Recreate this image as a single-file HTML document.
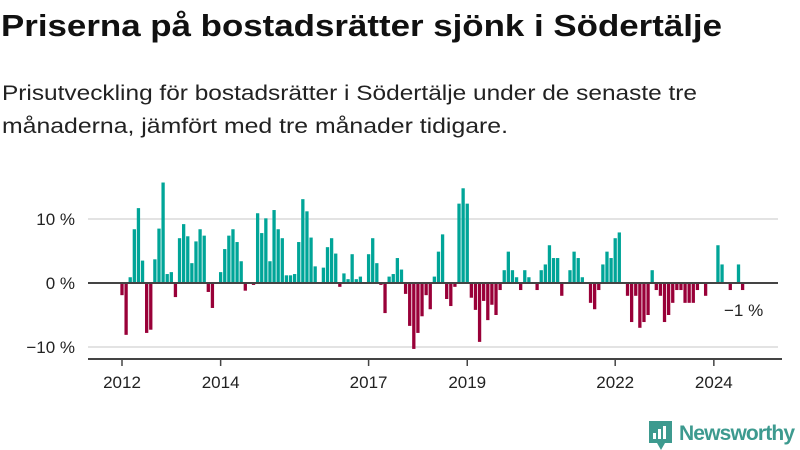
<!DOCTYPE html>
<html><head><meta charset="utf-8">
<style>
body{margin:0;background:#fff;width:800px;height:450px;overflow:hidden;font-family:"Liberation Sans",sans-serif;}
svg{position:absolute;left:0;top:0;}
</style></head><body>
<svg width="800" height="450">
<text x="1" y="36" font-size="31" font-weight="bold" fill="#111" font-family="Liberation Sans, sans-serif" textLength="721" lengthAdjust="spacingAndGlyphs">Priserna på bostadsrätter sjönk i Södertälje</text>
<text x="2" y="100" font-size="21" fill="#222" font-family="Liberation Sans, sans-serif" textLength="695" lengthAdjust="spacingAndGlyphs">Prisutveckling för bostadsrätter i Södertälje under de senaste tre</text>
<text x="2" y="133" font-size="21" fill="#222" font-family="Liberation Sans, sans-serif" textLength="506" lengthAdjust="spacingAndGlyphs">månaderna, jämfört med tre månader tidigare.</text>
<g id="grid"></g><g id="bars"></g><g id="axes"></g>
<text x="724" y="316" font-size="17" fill="#222" font-family="Liberation Sans, sans-serif">−1 %</text>
<g>
<path d="M649 421 h23 v22 h-7 l-4 7 l-4 -7 h-8 z" fill="#3d9a8f"/>
<rect x="653" y="433" width="3" height="6" fill="#fff"/><rect x="658" y="429" width="3" height="10" fill="#fff"/><rect x="663" y="426" width="3" height="13" fill="#fff"/>
<text x="679" y="440" font-size="21" font-weight="bold" fill="#3d9a8f" font-family="Liberation Sans, sans-serif" textLength="116">Newsworthy</text>
</g>
</svg>
<script>
const values=[-1.9,-8.1,0.9,8.4,11.7,3.5,-7.8,-7.3,3.7,8.5,15.7,1.4,1.7,-2.2,7.0,9.2,7.3,3.1,6.5,8.4,7.4,-1.4,-3.9,0,1.7,5.3,7.4,8.4,6.4,3.4,-1.2,0,-0.3,
10.9,7.8,10.1,3.4,11.4,8.4,7.0,1.2,1.2,1.4,6.4,13.1,11.2,7.1,2.6,0,2.4,5.6,7.0,4.6,-0.6,1.5,0.6,4.5,0.6,1.0,0,4.5,7.0,3.1,-0.3,-4.7,1.0,1.4,3.9,2.1,-1.7,-6.7,-10.3,-7.8,-5.2,
-1.9,-4.1,1.0,4.9,7.6,-2.5,-3.6,-0.6,12.4,14.8,12.4,-2.3,-4.2,-9.2,-2.8,-5.8,-3.4,-5.0,-1.1,2.0,4.9,2.0,0.9,-1.1,2.0,0.9,0,-1.1,2.0,2.9,5.9,3.9,3.9,-2.0,0,2.0,4.9,3.9,0.9,0,
-3.1,-4.1,-1.1,2.9,4.9,3.9,7.0,7.9,0,-2.0,-6.1,-2.0,-7.0,-6.1,-5.0,2.0,-1.1,-2.0,-6.1,-5.0,-3.1,-1.1,-1.1,-3.1,-3.1,-3.1,-1.1,0,-2.0,0,0,5.9,2.9,0,-1.1,0,2.9,-1.1];
const yTicks=[10,0,-10];
const yTickLabels=["10 %","0 %","−10 %"];
const xTickYears=[2012,2014,2017,2019,2022,2024];
const NS="http://www.w3.org/2000/svg";
const x=i=>122+i*4.11;
const xYear=yr=>x((yr-2012)*12);
const y=v=>283-v*6.4;
function mk(t,a,p){const e=document.createElementNS(NS,t);for(const k in a)e.setAttribute(k,a[k]);p.appendChild(e);return e;}
const grid=document.getElementById('grid'),bars=document.getElementById('bars'),axes=document.getElementById('axes');
yTicks.forEach((v,i)=>{
 if(v!==0){const l=mk('line',{x1:88,x2:778,y1:y(v),y2:y(v),stroke:'#e3e3e3','stroke-width':2},grid);
 
 }
 const t=mk('text',{x:75,y:y(v)+6,'text-anchor':'end','font-size':17,fill:'#222','font-family':'Liberation Sans, sans-serif'},axes);
 t.textContent=yTickLabels[i];
 
 
});
values.forEach((v,i)=>{
 if(v===0)return;
 const r=mk('rect',{x:x(i)-1.65,width:3.3,y:Math.min(y(v),283),height:Math.abs(y(v)-283),fill:v>0?'#00a598':'#990038'},bars);
 
 
});
const zl=mk('line',{x1:88,x2:778,y1:283,y2:283,stroke:'#444','stroke-width':2},axes);


const ax=mk('line',{x1:88,x2:782,y1:359,y2:359,stroke:'#444','stroke-width':2},axes);


xTickYears.forEach(yr=>{
 const tk=mk('line',{x1:xYear(yr),x2:xYear(yr),y1:359,y2:366,stroke:'#444','stroke-width':1.5},axes);
 
 
 const t=mk('text',{x:xYear(yr),y:388,'text-anchor':'middle','font-size':17,fill:'#222','font-family':'Liberation Sans, sans-serif'},axes);
 t.textContent=yr;
 
 
});
</script>
</body></html>
